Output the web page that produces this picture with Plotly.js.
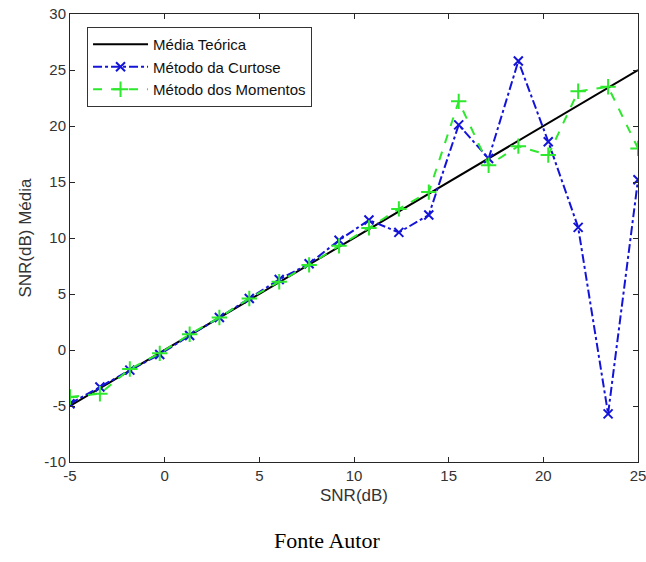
<!DOCTYPE html>
<html>
<head>
<meta charset="utf-8">
<script src="https://cdn.plot.ly/plotly-3.0.1.min.js"></script>
<style>html,body{margin:0;padding:0;background:#fff;}#chart{width:646px;height:562px;}</style>
</head>
<body>
<div id="chart"></div>
<script>
// SNR (dB) values on the x axis
var snr = [-5, -3.42, -1.84, -0.26, 1.32, 2.89, 4.47, 6.05, 7.63, 9.21, 10.79, 12.37, 13.95, 15.53, 17.11, 18.68, 20.26, 21.84, 23.42, 25];
// Theoretical mean
var mediaTeorica = [-5, -3.42, -1.84, -0.26, 1.32, 2.89, 4.47, 6.05, 7.63, 9.21, 10.79, 12.37, 13.95, 15.53, 17.11, 18.68, 20.26, 21.84, 23.42, 25];
// Kurtosis method estimates
var metodoCurtose = [-4.8, -3.3, -1.8, -0.4, 1.3, 2.9, 4.6, 6.3, 7.7, 9.8, 11.6, 10.5, 12.05, 20.1, 17.1, 25.8, 18.6, 10.95, -5.7, 15.2];
// Moments method estimates
var metodoMomentos = [-4.2, -3.9, -1.7, -0.3, 1.4, 2.9, 4.6, 6.1, 7.6, 9.3, 10.9, 12.6, 14.1, 22.2, 16.5, 18.2, 17.4, 23.1, 23.5, 18.0];

var names = ['Média Teórica', 'Método da Curtose', 'Método dos Momentos'];
var xTicks = [-5, 0, 5, 10, 15, 20, 25];
var yTicks = [-10, -5, 0, 5, 10, 15, 20, 25, 30];

var sans = 'Liberation Sans, Arial, sans-serif';

var traces = [
  {x: snr, y: mediaTeorica, name: names[0], mode: 'lines', type: 'scatter',
   line: {color: '#000000', width: 2}},
  {x: snr, y: metodoCurtose, name: names[1], mode: 'lines+markers', type: 'scatter',
   line: {color: '#1414d8', width: 2, dash: 'dashdot'},
   marker: {symbol: 'x-thin-open', size: 9, color: '#1414d8', line: {color: '#1414d8', width: 2}}},
  {x: snr, y: metodoMomentos, name: names[2], mode: 'lines+markers', type: 'scatter',
   line: {color: '#2ee82e', width: 2, dash: 'dash'},
   marker: {symbol: 'cross-thin-open', size: 11, color: '#2ee82e', line: {color: '#2ee82e', width: 2}}}
];

var axisCommon = {
  showgrid: false, zeroline: false, showline: true, linecolor: '#262626', linewidth: 1,
  mirror: 'ticks', ticks: 'inside', ticklen: 5, tickcolor: '#262626', tickwidth: 1,
  tickfont: {family: sans, size: 15, color: '#333333'},
  tickmode: 'array', ticklabeloverflow: 'allow'
};

var layout = {
  width: 646, height: 562,
  margin: {l: 70, r: 8, t: 14, b: 100},
  paper_bgcolor: '#ffffff', plot_bgcolor: '#ffffff',
  showlegend: true,
  legend: {x: 0.03, y: 0.971, xanchor: 'left', yanchor: 'top',
    bgcolor: '#ffffff', bordercolor: '#333333', borderwidth: 1,
    font: {family: sans, size: 15, color: '#111111'},
    itemwidth: 55, tracegroupgap: 0},
  xaxis: Object.assign({}, axisCommon, {
    range: [-5, 25], tickvals: xTicks, ticktext: xTicks.map(String),
    title: {text: 'SNR(dB)', font: {family: sans, size: 17, color: '#333333'}, standoff: 6}
  }),
  yaxis: Object.assign({}, axisCommon, {
    range: [-10, 30], tickvals: yTicks, ticktext: yTicks.map(String),
    title: {text: 'SNR(dB) Média', font: {family: sans, size: 17, color: '#333333'}, standoff: 8}
  }),
  annotations: [{
    text: 'Fonte Autor', xref: 'paper', yref: 'paper', x: 0.452, y: -0.175,
    xanchor: 'center', yanchor: 'middle', showarrow: false,
    font: {family: 'Liberation Serif, serif', size: 22, color: '#000000'}
  }]
};

Plotly.newPlot('chart', traces, layout, {displayModeBar: false, staticPlot: true});
</script>
</body>
</html>
